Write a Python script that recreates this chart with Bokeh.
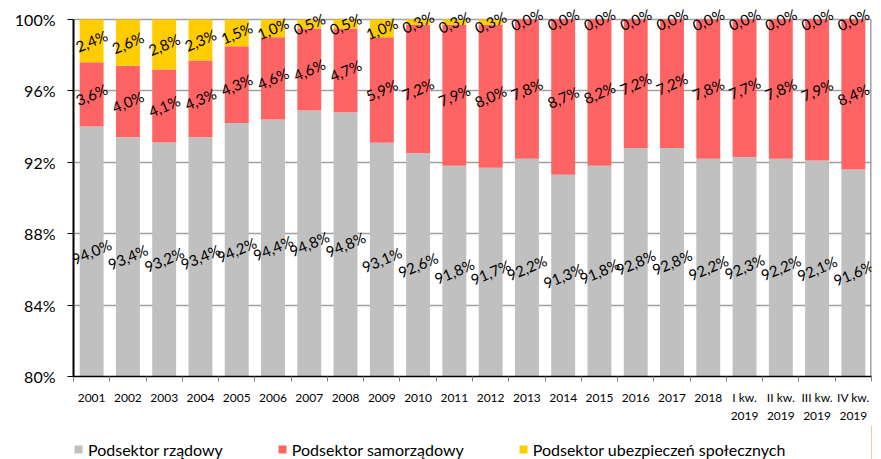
from bokeh.plotting import figure
from bokeh.layouts import column
from bokeh.models import (ColumnDataSource, Range1d, FixedTicker, Legend, LegendItem,
                          PrintfTickFormatter, LabelSet)
from bokeh.core.properties import value
from bokeh.embed import file_html
from bokeh.resources import INLINE

categories = ["2001", "2002", "2003", "2004", "2005", "2006", "2007", "2008", "2009", "2010",
              "2011", "2012", "2013", "2014", "2015", "2016", "2017", "2018",
              "I kw.\n2019", "II kw.\n2019", "III kw.\n2019", "IV kw.\n2019"]
rzadowy = [94.0, 93.4, 93.2, 93.4, 94.2, 94.4, 94.8, 94.8, 93.1, 92.6, 91.8, 91.7, 92.2, 91.3,
           91.8, 92.8, 92.8, 92.2, 92.3, 92.2, 92.1, 91.6]
samorzadowy = [3.6, 4.0, 4.1, 4.3, 4.3, 4.6, 4.6, 4.7, 5.9, 7.2, 7.9, 8.0, 7.8, 8.7,
               8.2, 7.2, 7.2, 7.8, 7.7, 7.8, 7.9, 8.4]
ubezpieczen = [2.4, 2.6, 2.8, 2.3, 1.5, 1.0, 0.5, 0.5, 1.0, 0.3, 0.3, 0.3, 0.0, 0.0,
               0.0, 0.0, 0.0, 0.0, 0.0, 0.0, 0.0, 0.0]
series_names = ["Podsektor rządowy", "Podsektor samorządowy", "Podsektor ubezpieczeń społecznych"]
y_ticks = [80, 84, 88, 92, 96, 100]

colors = ["#C0C0C0", "#FF6464", "#FFCC00"]
FONT = "Lato"

n = len(categories)
xs = list(range(1, n + 1))
YMIN, YMAX = 80, 100

# 100% stacked (normalised like the original spreadsheet chart)
g_top, r_top, y_top = [], [], []
for a, b, c in zip(rzadowy, samorzadowy, ubezpieczen):
    s = a + b + c
    g_top.append(a / s * 100)
    r_top.append((a + b) / s * 100)
    y_top.append(100.0)

def fmt(v):
    return f"{v:.1f}".replace(".", ",") + "%"

src = ColumnDataSource(dict(
    x=xs,
    g_bot=[YMIN] * n, g_top=g_top,
    r_bot=g_top, r_top=r_top,
    y_bot=r_top, y_top=y_top,
    g_lab=[fmt(v) for v in rzadowy], r_lab=[fmt(v) for v in samorzadowy], y_lab=[fmt(v) for v in ubezpieczen],
    g_mid=[(YMIN + t) / 2 for t in g_top],
    r_mid=[(b + t) / 2 for b, t in zip(g_top, r_top)],
    y_mid=[(b + t) / 2 for b, t in zip(r_top, y_top)],
))

# headroom above 100 % so the rotated labels at the top are not clipped
p = figure(width=878, height=425, output_backend="svg", toolbar_location=None,
           x_range=Range1d(0.5, n + 0.5), y_range=Range1d(YMIN, YMAX + 0.95),
           min_border_left=73, min_border_right=7, min_border_top=2, min_border_bottom=49)
p.background_fill_color = "white"
p.border_fill_color = "white"
p.outline_line_color = None

W = 0.66
r1 = p.vbar(x="x", bottom="g_bot", top="g_top", width=W, source=src, fill_color=colors[0], line_color=None)
r2 = p.vbar(x="x", bottom="r_bot", top="r_top", width=W, source=src, fill_color=colors[1], line_color=None)
r3 = p.vbar(x="x", bottom="y_bot", top="y_top", width=W, source=src, fill_color=colors[2], line_color=None)

# right border of the plot area
p.segment(x0=[n + 0.5], y0=[YMIN], x1=[n + 0.5], y1=[YMAX], line_color="#A0A0A0", line_width=3)

ang = 0.40
for ycol, lcol in [("g_mid", "g_lab"), ("r_mid", "r_lab"), ("y_mid", "y_lab")]:
    p.add_layout(LabelSet(x="x", y=ycol, text=lcol, source=src, angle=ang,
                          text_align="center", text_baseline="middle",
                          text_font=value(FONT), text_font_size="15px", text_color="black"))

# axes
p.yaxis.ticker = FixedTicker(ticks=y_ticks)
p.yaxis.bounds = (YMIN, YMAX)
p.yaxis.formatter = PrintfTickFormatter(format="%d%%")
p.yaxis.major_label_text_font = FONT
p.yaxis.major_label_text_font_size = "16px"
p.yaxis.major_label_text_color = "black"
p.yaxis.axis_line_color = "black"
p.yaxis.axis_line_width = 2
p.yaxis.major_tick_out = 6
p.yaxis.major_tick_in = 0
p.yaxis.major_tick_line_color = "black"
p.yaxis.minor_tick_line_color = None
p.yaxis.major_label_standoff = 12

p.xaxis.ticker = FixedTicker(ticks=xs, minor_ticks=[i + 0.5 for i in range(0, n + 1)])
p.xaxis.major_label_overrides = {x: c for x, c in zip(xs, categories)}
p.xaxis.major_label_text_font = FONT
p.xaxis.major_label_text_font_size = "12px"
p.xaxis.major_label_text_color = "black"
p.xaxis.axis_line_color = "black"
p.xaxis.axis_line_width = 1.5
p.xaxis.major_tick_out = 0
p.xaxis.major_tick_in = 0
p.xaxis.minor_tick_out = 5
p.xaxis.minor_tick_in = 0
p.xaxis.minor_tick_line_color = "#808080"
p.xaxis.major_label_standoff = 8

p.xgrid.grid_line_color = None
p.ygrid.grid_line_color = "#A0A0A0"
p.ygrid.grid_line_width = 1.5
p.ygrid.bounds = (YMIN, YMAX)

# legend strip below the chart (its frame is aligned with the chart's frame)
q = figure(width=878, height=34, output_backend="svg", toolbar_location=None,
           x_range=Range1d(0, 1), y_range=Range1d(0, 1), min_border=0)
q.axis.visible = False
q.grid.grid_line_color = None
q.outline_line_color = None
q.background_fill_color = "white"
q.border_fill_color = "white"
l1 = q.vbar(x=[5], top=[5], width=0.1, fill_color=colors[0], line_color=None)
l2 = q.vbar(x=[5], top=[5], width=0.1, fill_color=colors[1], line_color=None)
l3 = q.vbar(x=[5], top=[5], width=0.1, fill_color=colors[2], line_color=None)
legend = Legend(items=[LegendItem(label=series_names[0], renderers=[l1]),
                       LegendItem(label=series_names[1], renderers=[l2]),
                       LegendItem(label=series_names[2], renderers=[l3])],
                orientation="horizontal", location=(0, 0),
                label_text_font=FONT, label_text_font_size="16px", label_text_color="black",
                glyph_width=10, glyph_height=10, label_standoff=5, spacing=54,
                label_height=20, border_line_color=None, background_fill_alpha=0,
                margin=0, padding=0)
q.add_layout(legend, "center")

layout = column(p, q, spacing=0)
open("out.html", "w").write(file_html(layout, INLINE))
